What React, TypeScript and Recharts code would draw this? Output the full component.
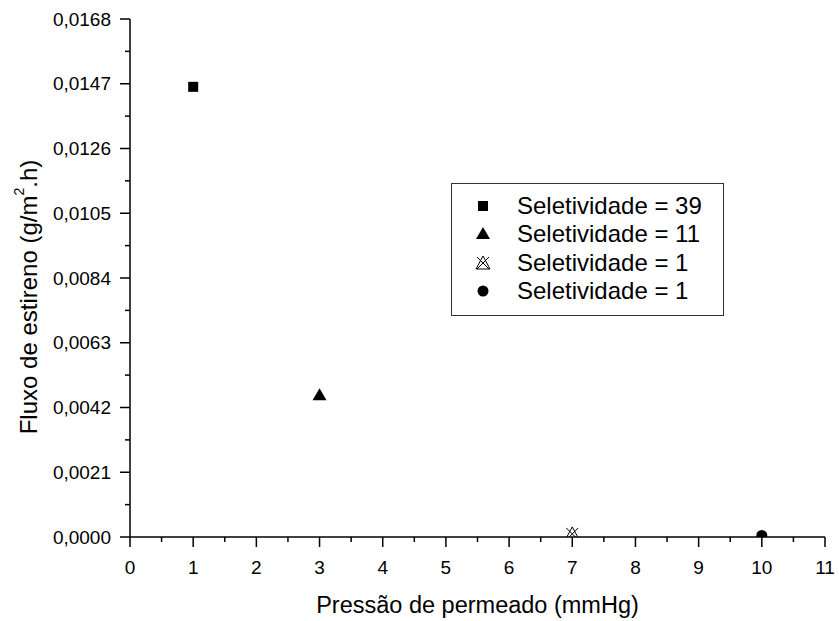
import React from 'react'
import { ScatterChart, Scatter, XAxis, YAxis, Label } from 'recharts'

// pressure (mmHg) and styrene flux (g/m².h), one point per membrane
const pressao = [1, 3, 7, 10]
const fluxo = [0.0146, 0.0046, 0.0001, 0.00005]
const seletividade = ['39', '11', '1', '1']

const xMajor = [0, 1, 2, 3, 4, 5, 6, 7, 8, 9, 10, 11]
const yMajor = [0, 0.0021, 0.0042, 0.0063, 0.0084, 0.0105, 0.0126, 0.0147, 0.0168]

const xTicks = xMajor.flatMap((v, i) => (i < xMajor.length - 1 ? [v, v + 0.5] : [v]))
const yTicks = yMajor.flatMap((v, i) => (i < yMajor.length - 1 ? [v, (v + yMajor[i + 1]) / 2] : [v]))

const FONT = "'Liberation Sans', Arial, sans-serif"
const TICK_FS = 19
const LABEL_FS = 23.5
const LEGEND_FS = 24

const fmtY = (v: number) => v.toFixed(4).replace('.', ',')

const XTick = (props: any) => {
  const { x, y, payload } = props
  const major = Math.abs(payload.value - Math.round(payload.value)) < 1e-9
  return (
    <g>
      <line x1={x} x2={x} y1={y} y2={y + (major ? 10 : 5)} stroke="#000" strokeWidth={1.5} />
      {major && (
        <text x={x} y={y + 30} textAnchor="middle" dominantBaseline="central" fontSize={TICK_FS} fontFamily={FONT} fill="#000">
          {payload.value}
        </text>
      )}
    </g>
  )
}

const YTick = (props: any) => {
  const { x, y, payload } = props
  const major = Math.round(payload.value / 0.00105) % 2 === 0
  return (
    <g>
      <line x1={x} x2={x - (major ? 10 : 5)} y1={y} y2={y} stroke="#000" strokeWidth={1.5} />
      {major && (
        <text x={x - 19} y={y} textAnchor="end" dominantBaseline="central" fontSize={TICK_FS} fontFamily={FONT} fill="#000">
          {fmtY(payload.value)}
        </text>
      )}
    </g>
  )
}

const Square = ({ cx, cy }: any) => <rect x={cx - 5} y={cy - 5} width={10} height={10} fill="#000" />
const Triangle = ({ cx, cy }: any) => (
  <polygon points={`${cx},${cy - 7} ${cx - 7},${cy + 5} ${cx + 7},${cy + 5}`} fill="#000" />
)
const CrossTriangle = ({ cx, cy }: any) => (
  <g fill="none" stroke="#000" strokeWidth={1}>
    <polygon points={`${cx},${cy - 7} ${cx - 7},${cy + 6} ${cx + 7},${cy + 6}`} />
    <line x1={cx - 6} y1={cy - 6} x2={cx + 6} y2={cy + 6} />
    <line x1={cx + 6} y1={cy - 6} x2={cx - 6} y2={cy + 6} />
  </g>
)
const Dot = ({ cx, cy }: any) => <circle cx={cx} cy={cy} r={5.5} fill="#000" />

const shapes = [Square, Triangle, CrossTriangle, Dot]

const YLabel = ({ viewBox }: any) => {
  const cx = viewBox.x + 28
  const cy = viewBox.y + viewBox.height / 2 + 19
  return (
    <text transform={`translate(${cx},${cy}) rotate(-90)`} textAnchor="middle" dominantBaseline="central" fontSize={24} fontFamily={FONT} fill="#000">
      Fluxo de estireno (g/m
      <tspan dy={-9} fontSize={14}>2</tspan>
      <tspan dy={9}>.h)</tspan>
    </text>
  )
}

const XLabel = ({ viewBox }: any) => (
  <text x={viewBox.x + viewBox.width / 2} y={613} textAnchor="middle" fontSize={LABEL_FS} fontFamily={FONT} fill="#000">
    Pressão de permeado (mmHg)
  </text>
)

const LegendBox = () => (
  <div
    style={{
      position: 'absolute',
      left: 451,
      top: 183,
      width: 273,
      height: 133,
      border: '1px solid #333',
      boxSizing: 'border-box',
      fontFamily: FONT,
      fontSize: LEGEND_FS,
      color: '#000',
      paddingTop: 8,
    }}
  >
    {seletividade.map((s, i) => {
      const Shape = shapes[i]
      return (
        <div key={i} style={{ display: 'flex', alignItems: 'center', height: 28.3, whiteSpace: 'nowrap' }}>
          <svg width={65} height={24} style={{ display: 'block', flexShrink: 0 }}>
            <Shape cx={31} cy={12} />
          </svg>
          <span>Seletividade = {s}</span>
        </div>
      )
    })}
  </div>
)

export default function App() {
  return (
    <div style={{ position: 'absolute', left: 0, top: 0, width: 839, height: 621, background: '#fff' }}>
      <ScatterChart width={839} height={621} margin={{ top: 19, right: 14, bottom: 0, left: 0 }}>
        <XAxis
          type="number"
          dataKey="x"
          domain={[0, 11]}
          ticks={xTicks}
          interval={0}
          height={84}
          tickSize={0}
          tickMargin={0}
          tick={<XTick />}
          axisLine={{ stroke: '#000', strokeWidth: 1.5 }}
          allowDataOverflow
        >
          <Label content={<XLabel />} />
        </XAxis>
        <YAxis
          type="number"
          dataKey="y"
          domain={[0, 0.0168]}
          ticks={yTicks}
          interval={0}
          width={130}
          tickSize={0}
          tickMargin={0}
          tick={<YTick />}
          axisLine={{ stroke: '#000', strokeWidth: 1.5 }}
          allowDataOverflow
        >
          <Label content={<YLabel />} />
        </YAxis>
        {pressao.map((p, i) => (
          <Scatter
            key={i}
            name={`Seletividade = ${seletividade[i]}`}
            data={[{ x: p, y: fluxo[i] }]}
            shape={shapes[i]}
            isAnimationActive={false}
          />
        ))}
      </ScatterChart>
      <LegendBox />
    </div>
  )
}
